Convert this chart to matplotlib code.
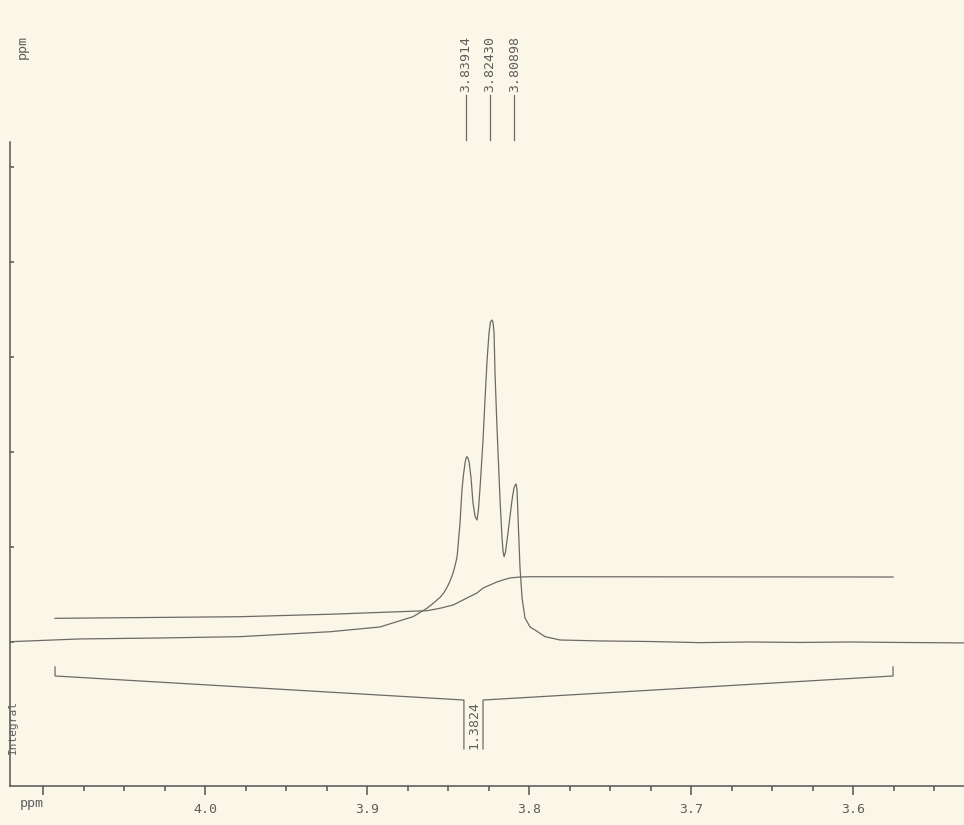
import numpy as np
import matplotlib
matplotlib.use('Agg')
import matplotlib.pyplot as plt
from matplotlib.ticker import MultipleLocator

plt.rcParams['font.family'] = 'DejaVu Sans Mono'

###=== data ==========================================================
# 1H spectrum trace (ppm, relative intensity)
spec_ppm = [4.1204, 4.0772, 4.0278, 3.9784, 3.9228, 3.8920, 3.8815, 3.8716,
            3.8630, 3.8593, 3.8549, 3.8525, 3.8506, 3.8488, 3.8469, 3.8457,
            3.8444, 3.8435, 3.8426, 3.8420, 3.8414, 3.8405, 3.8395, 3.8389,
            3.8383, 3.8377, 3.8370, 3.8358, 3.8346, 3.8333, 3.8321, 3.8312,
            3.8302, 3.8284, 3.8272, 3.8259, 3.8247, 3.8238, 3.8228, 3.8222,
            3.8216, 3.8210, 3.8198, 3.8179, 3.8167, 3.8160, 3.8154, 3.8145,
            3.8130, 3.8105, 3.8093, 3.8086, 3.8080, 3.8074, 3.8068, 3.8056,
            3.8043, 3.8025, 3.7994, 3.7963, 3.7901, 3.7809, 3.7562, 3.7253,
            3.6944, 3.6636, 3.6327, 3.6019, 3.5710, 3.5315]
spec_int = [0.003, 0.032, 0.042, 0.056, 0.108, 0.158, 0.214, 0.266,
            0.355, 0.405, 0.470, 0.520, 0.575, 0.640, 0.726, 0.800,
            0.898, 1.074, 1.253, 1.432, 1.600, 1.758, 1.884, 1.935,
            1.951, 1.935, 1.895, 1.726, 1.463, 1.320, 1.284, 1.400,
            1.635, 2.126, 2.547, 2.968, 3.253, 3.370, 3.389, 3.360,
            3.253, 2.832, 2.263, 1.495, 1.100, 0.950, 0.898, 0.950,
            1.147, 1.495, 1.621, 1.650, 1.663, 1.600, 1.316, 0.789,
            0.463, 0.253, 0.158, 0.126, 0.056, 0.021, 0.011, 0.005,
            -0.007, 0.000, -0.005, 0.000, -0.005, -0.010]

# integral trace
integ_ppm = [4.0926, 3.9784, 3.9228, 3.8796, 3.8630, 3.8549, 3.8469, 3.8383,
             3.8321, 3.8284, 3.8241, 3.8198, 3.8160, 3.8117, 3.8056, 3.7994,
             3.5753]
integ_val = [0.249, 0.266, 0.292, 0.319, 0.329, 0.355, 0.389, 0.463,
             0.516, 0.568, 0.600, 0.632, 0.653, 0.674, 0.684, 0.687,
             0.684]

# integral region and value
integ_from = 4.0926
integ_to = 3.5753
integ_label = '1.3824'

# peak picking
peak_ppm = [3.83914, 3.82430, 3.80898]
peak_labels = ['3.83914', '3.82430', '3.80898']

xticks = [4.1, 4.0, 3.9, 3.8, 3.7, 3.6]
xticklabels = ['', '4.0', '3.9', '3.8', '3.7', '3.6']
yticks = [0, 1, 2, 3, 4, 5]

###=== figure ========================================================
paper = '#faf6e8'
ink = '#6b6b66'
axc = '#555555'
txt = '#5e5e5e'

fig = plt.figure(figsize=(9.64, 8.25), dpi=100)
fig.patch.set_facecolor(paper)
ax = fig.add_axes([10/964, 39/825, 954/964, 644/825])
ax.set_facecolor(paper)

ax.plot(spec_ppm, spec_int, color=ink, lw=0.9)
ax.plot(integ_ppm, integ_val, color=ink, lw=0.9)

ax.set_xlim(4.1204, 3.5315)
ax.set_ylim(-1.516, 5.263)

for s in ['top', 'right']:
    ax.spines[s].set_visible(False)
for s in ['left', 'bottom']:
    ax.spines[s].set_color(axc)
    ax.spines[s].set_linewidth(1.1)

ax.set_xticks(xticks)
ax.set_xticklabels(xticklabels)
ax.xaxis.set_minor_locator(MultipleLocator(0.025))
ax.tick_params(axis='x', which='major', direction='out', length=6.5, width=1.1,
               color=axc, labelcolor=txt, labelsize=9.5, pad=6)
ax.tick_params(axis='x', which='minor', direction='out', length=3.8, width=1.1,
               color=axc)
ax.set_yticks(yticks)
ax.set_yticklabels([])
ax.tick_params(axis='y', which='major', direction='in', length=3, width=1.1,
               color=axc)

# axis captions
fig.text(20/964, 1 - 803/825, 'ppm', color=txt, fontsize=9.5,
         ha='left', va='center')
fig.text(22/964, 1 - 47/825, 'ppm', color=txt, fontsize=9.5,
         rotation=90, ha='center', va='center')
ax.text(4.1185, -0.9, 'Integral', color=txt, fontsize=8, rotation=90,
        ha='center', va='center')

# peak labels above the axes
trans = ax.get_xaxis_transform()
for p, lab in zip(peak_ppm, peak_labels):
    ax.plot([p, p], [1.003, 1.073], color=ink, lw=0.9, transform=trans,
            clip_on=False)
    ax.text(p, 1.077, lab, color=txt, fontsize=9.5, rotation=90,
            ha='center', va='bottom', transform=trans, clip_on=False)

# integral bracket
mid = 3.8343
gap = 0.0059
ax.plot([integ_from, integ_from, mid + gap, mid + gap],
        [-0.263, -0.358, -0.611, -1.126], color=ink, lw=0.9)
ax.plot([integ_to, integ_to, mid - gap, mid - gap],
        [-0.263, -0.358, -0.611, -1.126], color=ink, lw=0.9)
ax.text(mid, -0.87, integ_label, color=txt, fontsize=9.5, rotation=90,
        ha='center', va='center')

fig.savefig('out.png', dpi=100, facecolor=paper)
